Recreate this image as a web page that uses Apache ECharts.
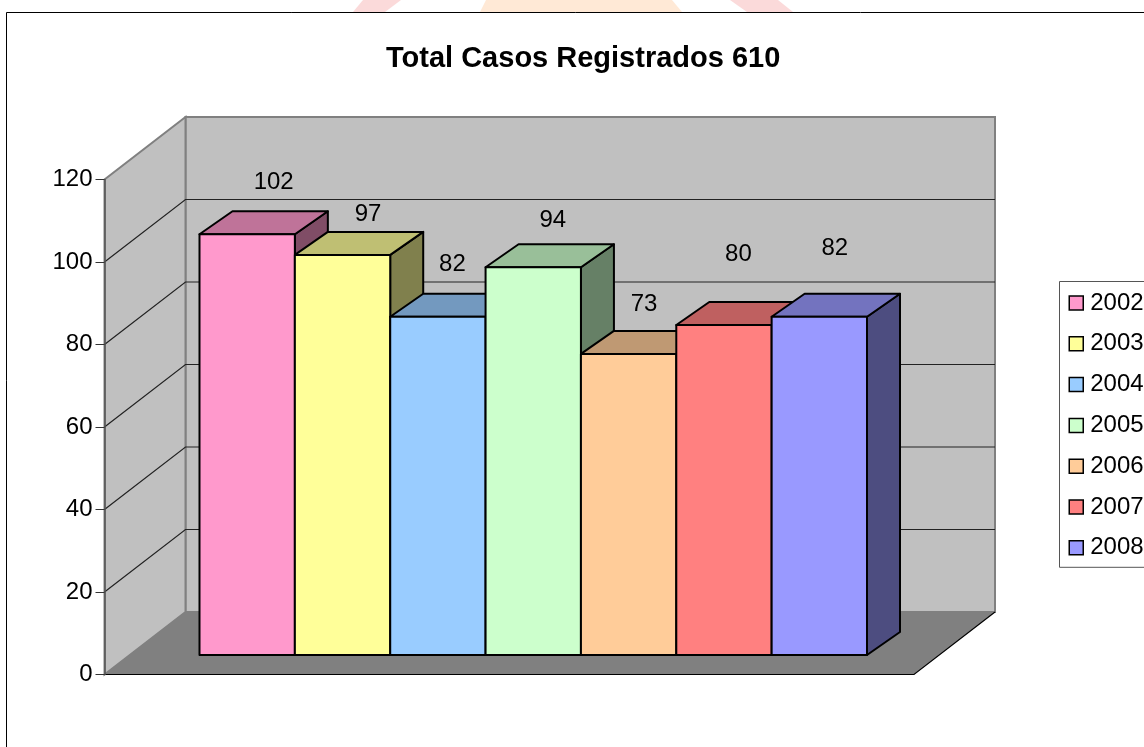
<!DOCTYPE html>
<html>
<head>
<meta charset="utf-8">
<style>html,body{margin:0;padding:0;background:#fff;overflow:hidden}#chart{width:1144px;height:747px}</style>
<script src="https://cdn.jsdelivr.net/npm/echarts@6/dist/echarts.min.js"></script>
</head>
<body>
<div id="chart"></div>
<script>
const titleText = 'Total Casos Registrados 610';
const years = ['2002','2003','2004','2005','2006','2007','2008'];
const casos = [102,97,82,94,73,80,82];
const barColors = ['#FF99CC','#FFFF99','#99CCFF','#CCFFCC','#FFCC99','#FF8080','#9999FF'];
const yTicks = [20,40,60,80,100];
const yMax = 120;
// Manual placement of the value labels relative to the bar's top-back centre, as in the original
const labelNudge = [[10,-29],[9,-17.5],[-2,-29.5],[3,-24],[-1,-26.5],[-2,-47.5],[-1,-45]];

const FONT = '"Liberation Sans", Arial, sans-serif';
const WALL = [81,-62.5];   // depth of the chart box
const BAR  = [33,-23];     // depth of each bar

function shade(hex,f){
  const n=parseInt(hex.slice(1),16);
  const c=[(n>>16)&255,(n>>8)&255,n&255].map(v=>Math.round(v*f));
  return 'rgb('+c.join(',')+')';
}
const off=(p,d)=>[p[0]+d[0],p[1]+d[1]];

function renderWalls(params,api){
  const bl=api.coord([0,0]), tl=api.coord([0,yMax]), br=api.coord([1,0]);
  const bl2=off(bl,WALL), tl2=off(tl,WALL), br2=off(br,WALL), tr2=off(api.coord([1,yMax]),WALL);
  return {type:'group',children:[
    {type:'polygon',shape:{points:[tl2,tr2,br2,bl2]},style:{fill:'#C0C0C0',stroke:'#808080',lineWidth:2}},
    {type:'polygon',shape:{points:[tl,tl2,bl2,bl]},style:{fill:'#C0C0C0',stroke:'#808080',lineWidth:2}},
    {type:'polygon',shape:{points:[bl,bl2,br2,br]},style:{fill:'#808080'}},
    {type:'polyline',shape:{points:[bl,br,br2]},style:{fill:'none',stroke:'#000',lineWidth:1.2}}
  ]};
}
function renderGrid(params,api){
  const a=api.coord([0,api.value(0)]), b=off(a,WALL), c=off(api.coord([1,api.value(0)]),WALL);
  return {type:'polyline',shape:{points:[a,b,c]},style:{fill:'none',stroke:'#222',lineWidth:1.2}};
}
function renderBar(params,api){
  const i=api.value(0), v=api.value(1), w=api.size([1,0])[0], col=barColors[i];
  const cx=api.coord([i,0])[0], top=api.coord([i,v])[1], base=api.coord([i,0])[1];
  const l=cx-w/2, r=cx+w/2;
  const tl=[l,top], tr=[r,top], bl=[l,base], br=[r,base];
  const edge={stroke:'#000',lineWidth:2,lineJoin:'round'};
  return {type:'group',children:[
    {type:'polygon',shape:{points:[tr,off(tr,BAR),off(br,BAR),br]},style:Object.assign({fill:shade(col,0.5)},edge)},
    {type:'polygon',shape:{points:[tl,off(tl,BAR),off(tr,BAR),tr]},style:Object.assign({fill:shade(col,0.75)},edge)},
    {type:'polygon',shape:{points:[tl,tr,br,bl]},style:Object.assign({fill:col},edge)}
  ]};
}
function renderLabel(params,api){
  const i=api.value(0), v=api.value(1);
  const p=api.coord([i,v]);
  return {type:'text',style:{
    text:String(v),
    x:p[0]+BAR[0]/2+labelNudge[i][0],
    y:p[1]+BAR[1]+labelNudge[i][1],
    align:'center',verticalAlign:'middle',
    font:'24px '+FONT,fill:'#000'
  }};
}

const chart=echarts.init(document.getElementById('chart'),null,{renderer:'canvas'});
const series=[
  {type:'custom',name:'walls',xAxisIndex:0,yAxisIndex:0,data:[[0,0]],renderItem:renderWalls,clip:false,silent:true,z:1},
  {type:'custom',name:'grid',xAxisIndex:0,yAxisIndex:0,data:yTicks.map(v=>[v]),
   encode:{y:0},renderItem:renderGrid,clip:false,silent:true,z:1},
];
years.forEach((y,i)=>{
  series.push({type:'custom',name:y,xAxisIndex:1,yAxisIndex:1,
    data:[[i,casos[i]]],encode:{x:0,y:1},renderItem:renderBar,clip:false,
    itemStyle:{color:barColors[i]},z:2});
});
series.push({type:'custom',name:'valores',xAxisIndex:1,yAxisIndex:1,
  data:casos.map((v,i)=>[i,v]),encode:{x:0,y:1},renderItem:renderLabel,clip:false,silent:true,z:4});

chart.setOption({
  animation:false,
  backgroundColor:'#fff',
  title:{text:titleText,left:386,top:44,padding:0,
    textStyle:{fontFamily:FONT,fontSize:29,fontWeight:'bold',color:'#000'}},
  legend:{
    data:years,orient:'vertical',left:1059.5,top:281.5,
    itemWidth:14,itemHeight:14,itemGap:16.8,
    padding:[9.5,30,7.5,9],
    borderColor:'#555',borderWidth:1,backgroundColor:'#fff',
    icon:'rect',
    itemStyle:{borderColor:'#000',borderWidth:1.5},
    textStyle:{fontFamily:FONT,fontSize:24,color:'#000',padding:[0,0,0,2]}
  },
  grid:[
    {left:104.5,top:179.5,width:809.5,height:495},
    {left:199.5,top:160,width:667.5,height:495}
  ],
  xAxis:[
    {gridIndex:0,type:'value',min:0,max:1,show:false},
    {gridIndex:1,type:'category',data:years,show:false}
  ],
  yAxis:[
    {gridIndex:0,type:'value',min:0,max:yMax,interval:20,z:3,
     axisLine:{show:true,lineStyle:{color:'#555',width:1.5}},
     axisTick:{show:true,length:9,lineStyle:{color:'#333',width:1}},
     axisLabel:{fontFamily:FONT,fontSize:24,color:'#000',margin:12},
     splitLine:{show:false}},
    {gridIndex:1,type:'value',min:0,max:yMax,interval:20,show:false,splitLine:{show:false}}
  ],
  graphic:{elements:[
    {type:'polygon',silent:true,z:-1,shape:{points:[[363,0],[401,0],[385,12],[353,12]]},style:{fill:'#FBDADA'}},
    {type:'polygon',silent:true,z:-1,shape:{points:[[486,0],[672,0],[682,12],[480,12]]},style:{fill:'#FFE9D6'}},
    {type:'polygon',silent:true,z:-1,shape:{points:[[730,0],[778,0],[793,12],[747,12]]},style:{fill:'#FBDADA'}},
    {type:'rect',silent:true,z:-1,shape:{x:6.5,y:12.5,width:1300,height:900},style:{fill:'#fff',stroke:'#000',lineWidth:1}}
  ]},
  series
});
</script>
</body>
</html>
